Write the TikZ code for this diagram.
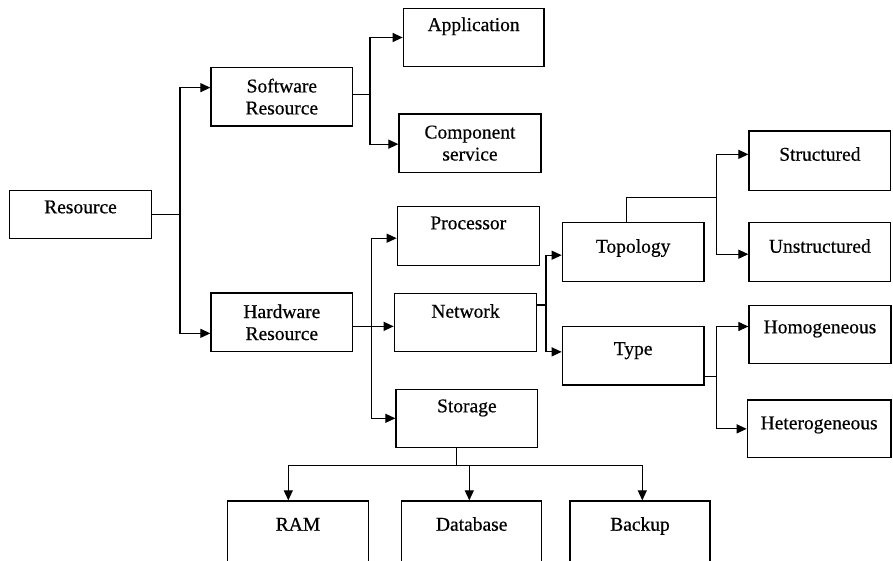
\documentclass[tikz,border=0pt]{standalone}
\usepackage{fontspec}
\setmainfont{Liberation Serif}[FakeBold=0.5]
\usetikzlibrary{arrows.meta}
\begin{document}
\begin{tikzpicture}[x=1pt,y=-1pt,
  box/.style={draw=black,line width=1.3pt,rectangle,inner sep=0pt,align=center,
    font=\rmfamily\fontsize{19.5pt}{22pt}\selectfont},
  box1/.style={box,text height=13pt},
  link/.style={draw=black,line width=1.2pt},
  arr/.style={link,-{Triangle[length=10pt,width=9pt]}}]
\fill[white] (0,0) rectangle (893,560);
\useasboundingbox (0,0) rectangle (893,560);

% ---- boxes ----
\node[box1,minimum width=142.4pt,minimum height=47.6pt,text depth=15.4pt] (res) at (80.5,214.5) {Resource};
\node[box,minimum width=141.7pt,minimum height=58.7pt] (sw) at (281.85,96.65) {Software\\Resource};
\node[box,minimum width=141.7pt,minimum height=58.7pt] (hw) at (281.85,322.35) {Hardware\\Resource};

\node[box1,minimum width=140.7pt,minimum height=58.4pt,text depth=26pt] (app) at (473.65,37.5) {Application};
\node[box,minimum width=142pt,minimum height=58.3pt] (comp) at (470,143.15) {Component\\service};

\node[box1,minimum width=142pt,minimum height=59pt,text depth=26.8pt] (proc) at (468.3,236.2) {Processor};
\node[box1,minimum width=142.4pt,minimum height=58.4pt,text depth=22.6pt] (net) at (465.5,322.5) {Network};
\node[box1,minimum width=141.7pt,minimum height=58pt,text depth=25pt] (stor) at (466.85,418.3) {Storage};

\node[box1,minimum width=141.7pt,minimum height=59pt,text depth=12pt] (topo) at (633.15,252.2) {Topology};
\node[box1,minimum width=141.7pt,minimum height=58.3pt,text depth=14.7pt] (type) at (633.15,355.85) {Type};

\node[box1,minimum width=141.7pt,minimum height=59.7pt,text depth=13.3pt] (struc) at (819.85,160.85) {Structured};
\node[box1,minimum width=141.7pt,minimum height=59pt,text depth=12pt] (unstr) at (819.85,252.2) {Unstructured};
\node[box1,minimum width=142pt,minimum height=57.6pt,text depth=15.4pt] (homo) at (820,334.5) {Homogeneous};
\node[box1,minimum width=143.7pt,minimum height=57.7pt,text depth=12.1pt] (hetero) at (819.15,428.85) {Heterogeneous};

\node[box1,minimum width=140.6pt,minimum height=69pt,text depth=22.6pt] (ram) at (298,535.5) {RAM};
\node[box1,minimum width=140pt,minimum height=69pt,text depth=22.6pt] (db) at (471.7,535.5) {Database};
\node[box1,minimum width=140pt,minimum height=69pt,text depth=22.6pt] (bak) at (640,535.5) {Backup};

% ---- trunk positions ----
\coordinate (ta) at (180,0);
\coordinate (tb) at (370,0);
\coordinate (tc) at (371.5,0);
\coordinate (td) at (546,0);
\coordinate (te) at (716.7,0);
\coordinate (tj) at (716.7,197.3);
\coordinate (sj) at (456.7,465.7);

% Resource -> Software / Hardware
\draw[link] (res.east) -- (res.east -| ta) coordinate (ra);
\draw[arr] (ra) |- ([yshift=9pt]sw.west);
\draw[arr] (ra) |- ([yshift=-11pt]hw.west);

% Software -> Application / Component service
\draw[link] ([yshift=2.3pt]sw.east) -- ([yshift=2.3pt]sw.east -| tb) coordinate (sa);
\draw[arr] (sa) |- (app.west);
\draw[arr] (sa) |- ([yshift=-1pt]comp.west);

% Hardware -> Processor / Network / Storage
\draw[arr] ([yshift=-4pt]hw.east) -- ([yshift=-4pt]hw.east -| net.west);
\coordinate (ha) at ([yshift=-4pt]hw.east -| tc);
\draw[arr] (ha) |- ([yshift=-2pt]proc.west);
\draw[arr] (ha) |- (stor.west);

% Network -> Topology / Type
\draw[link] ([yshift=17.5pt]net.east) -- ([yshift=17.5pt]net.east -| td) coordinate (na);
\draw[arr] (na) |- ([yshift=-3pt]topo.west);
\draw[arr] (na) |- ([yshift=4pt]type.west);

% Topology -> Structured / Unstructured
\draw[link] ([xshift=-6.5pt]topo.north) |- (tj);
\draw[arr] (tj) |- ([yshift=6.5pt]struc.west);
\draw[arr] (tj) |- ([yshift=-2pt]unstr.west);

% Type -> Homogeneous / Heterogeneous
\draw[link] ([yshift=-21pt]type.east) -- ([yshift=-21pt]type.east -| te) coordinate (ya);
\draw[arr] (ya) |- ([yshift=8pt]homo.west);
\draw[arr] (ya) |- (hetero.west);

% Storage -> RAM / Database / Backup
\draw[link] (stor.south -| sj) -- (sj);
\draw[arr] (sj) -| ([xshift=-9.7pt]ram.north);
\draw[arr] (sj) -| ([xshift=-2.4pt]db.north);
\draw[arr] (sj) -| ([xshift=2.3pt]bak.north);
\end{tikzpicture}
\end{document}
